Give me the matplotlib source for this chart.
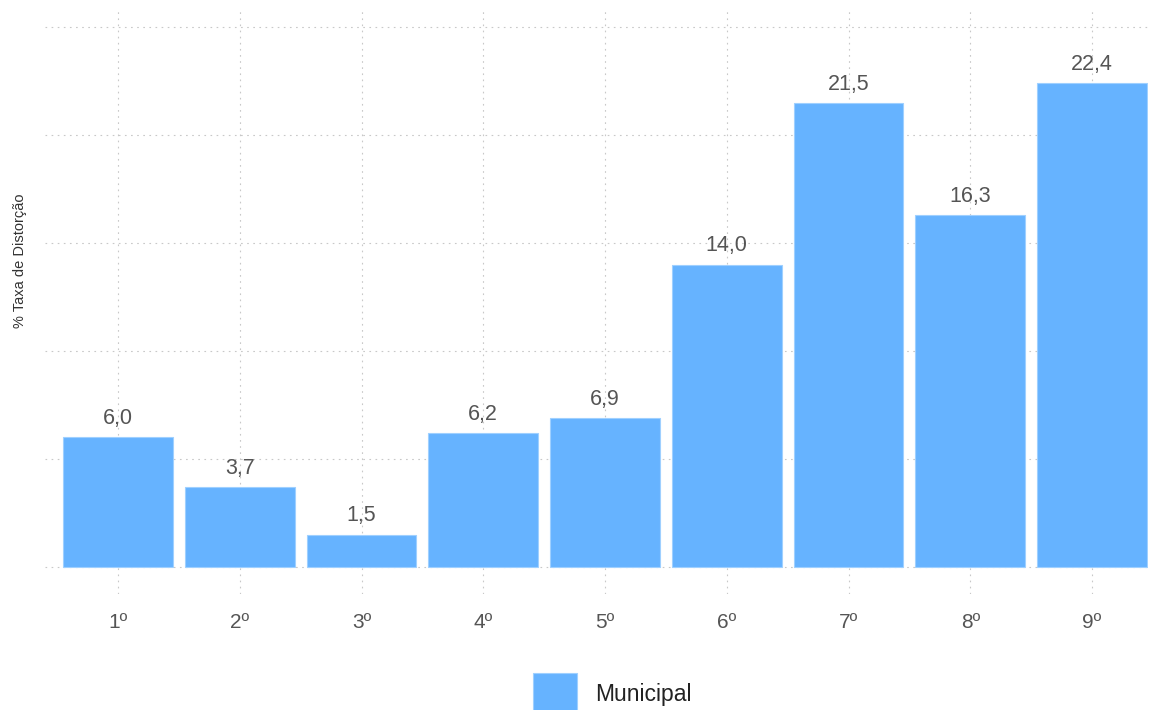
import numpy as np
import matplotlib
matplotlib.use("Agg")
import matplotlib.pyplot as plt

plt.rcParams['font.family'] = ['Liberation Sans', 'DejaVu Sans']

series_name = "Municipal"
categories = ["1º", "2º", "3º", "4º", "5º", "6º", "7º", "8º", "9º"]
values = [6.0, 3.7, 1.5, 6.2, 6.9, 14.0, 21.5, 16.3, 22.4]
y_ticks = [0, 5, 10, 15, 20, 25]

bar_color = "#66b3ff"

fig = plt.figure(figsize=(11.5, 7.1), dpi=100)
ax = fig.add_axes([45 / 1150, 1 - 594 / 710, 1103 / 1150, 584 / 710])

x = np.arange(len(categories))
bars = ax.bar(x, values, width=0.9, color=bar_color, edgecolor="#9fd0ff",
              linewidth=0.8, zorder=3, label=series_name)

# value labels above each bar, decimal comma
for xi, v in zip(x, values):
    ax.annotate(f"{v:.1f}".replace(".", ","), (xi, v), xytext=(0, 6),
                textcoords="offset points", ha="center", va="bottom",
                fontsize=15.5, color="#555555")

ax.set_xlim(-0.6, len(categories) - 0.54)
ax.set_ylim(-1.25, 25.8)
ax.set_xticks(x)
ax.set_xticklabels(categories, fontsize=15, color="#555555")
ax.set_yticks(y_ticks)
ax.set_yticklabels([])
ax.tick_params(length=0, pad=14)
ax.grid(True, linestyle=(0, (1.5, 4)), color="#c8c8c8", linewidth=0.8, zorder=0)
for s in ax.spines.values():
    s.set_visible(False)

ax.set_ylabel("% Taxa de Distorção", fontsize=10.5, color="#333333")
ax.yaxis.set_label_coords(-0.016, 0.57)

fig.legend(handles=[bars], labels=[series_name], loc="upper left",
           bbox_to_anchor=(533 / 1150, 1 - 673 / 710), frameon=False,
           borderpad=0, borderaxespad=0, handlelength=1.9, handleheight=2.45,
           handletextpad=0.8, fontsize=16.5, labelcolor="#222222")

fig.savefig("out.png", dpi=100)
